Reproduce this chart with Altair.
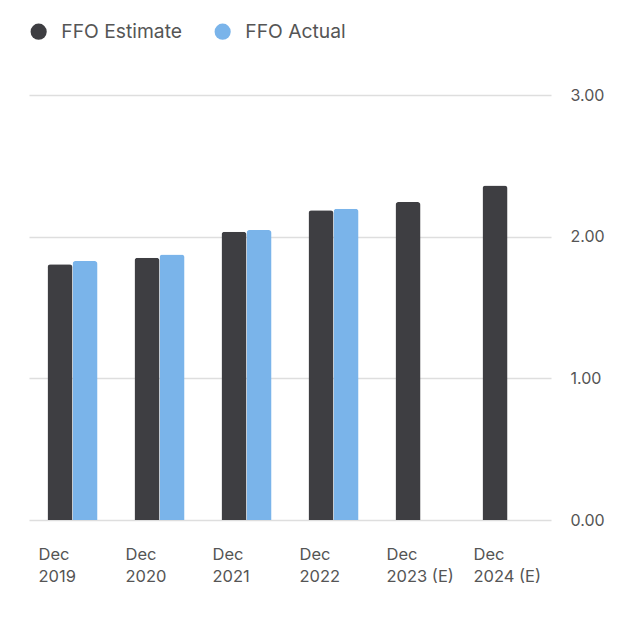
import altair as alt
import pandas as pd

periods = ["Dec 2019", "Dec 2020", "Dec 2021", "Dec 2022", "Dec 2023 (E)", "Dec 2024 (E)"]
ffo_estimate = [1.805, 1.851, 2.035, 2.186, 2.244, 2.362]
ffo_actual = [1.828, 1.875, 2.047, 2.197, None, None]
series_names = ["FFO Estimate", "FFO Actual"]
series_colors = ["#3e3e42", "#7ab4ea"]

rows = []
for p, e, a in zip(periods, ffo_estimate, ffo_actual):
    rows.append({"period": p, "series": series_names[0], "value": e})
    if a is not None:
        rows.append({"period": p, "series": series_names[1], "value": a})
df = pd.DataFrame(rows)

FONT = "Inter"

chart = alt.Chart(df).mark_bar(
    cornerRadiusTopLeft=3, cornerRadiusTopRight=3
).encode(
    x=alt.X("period:N", sort=periods, title=None,
            scale=alt.Scale(paddingInner=0.425, paddingOuter=0.2125),
            axis=alt.Axis(domain=False, ticks=False, labelAngle=0,
                          labelAlign="left", labelBaseline="top",
                          labelOffset=-34, labelPadding=26,
                          labelFontSize=16.5, labelColor="#555555",
                          labelLineHeight=22, labelFont=FONT,
                          labelExpr="[slice(datum.label,0,3), slice(datum.label,4)]")),
    xOffset=alt.XOffset("series:N", sort=series_names),
    y=alt.Y("value:Q", title=None,
            scale=alt.Scale(domain=[0, 3], nice=False),
            axis=alt.Axis(orient="right", values=[0, 1, 2, 3], format=".2f",
                          domain=False, ticks=False, grid=True,
                          gridColor="#dedede", gridWidth=1.5,
                          labelPadding=19, labelFontSize=16,
                          labelColor="#555555", labelFont=FONT)),
    color=alt.Color("series:N", sort=series_names,
                    scale=alt.Scale(domain=series_names, range=series_colors),
                    legend=alt.Legend(orient="none", direction="horizontal",
                                      legendX=0, legendY=-73, title=None,
                                      symbolType="circle", symbolSize=260,
                                      symbolStrokeWidth=0,
                                      labelFontSize=19.3, labelColor="#555555",
                                      labelFont=FONT, labelOffset=13,
                                      columnPadding=30)),
).properties(
    width=522, height=425,
    padding={"left": 21, "top": 87, "right": 70, "bottom": 90},
    autosize="none",
).configure_view(stroke=None)

chart.save("out.html", embed_options={"renderer": "svg", "actions": False})
